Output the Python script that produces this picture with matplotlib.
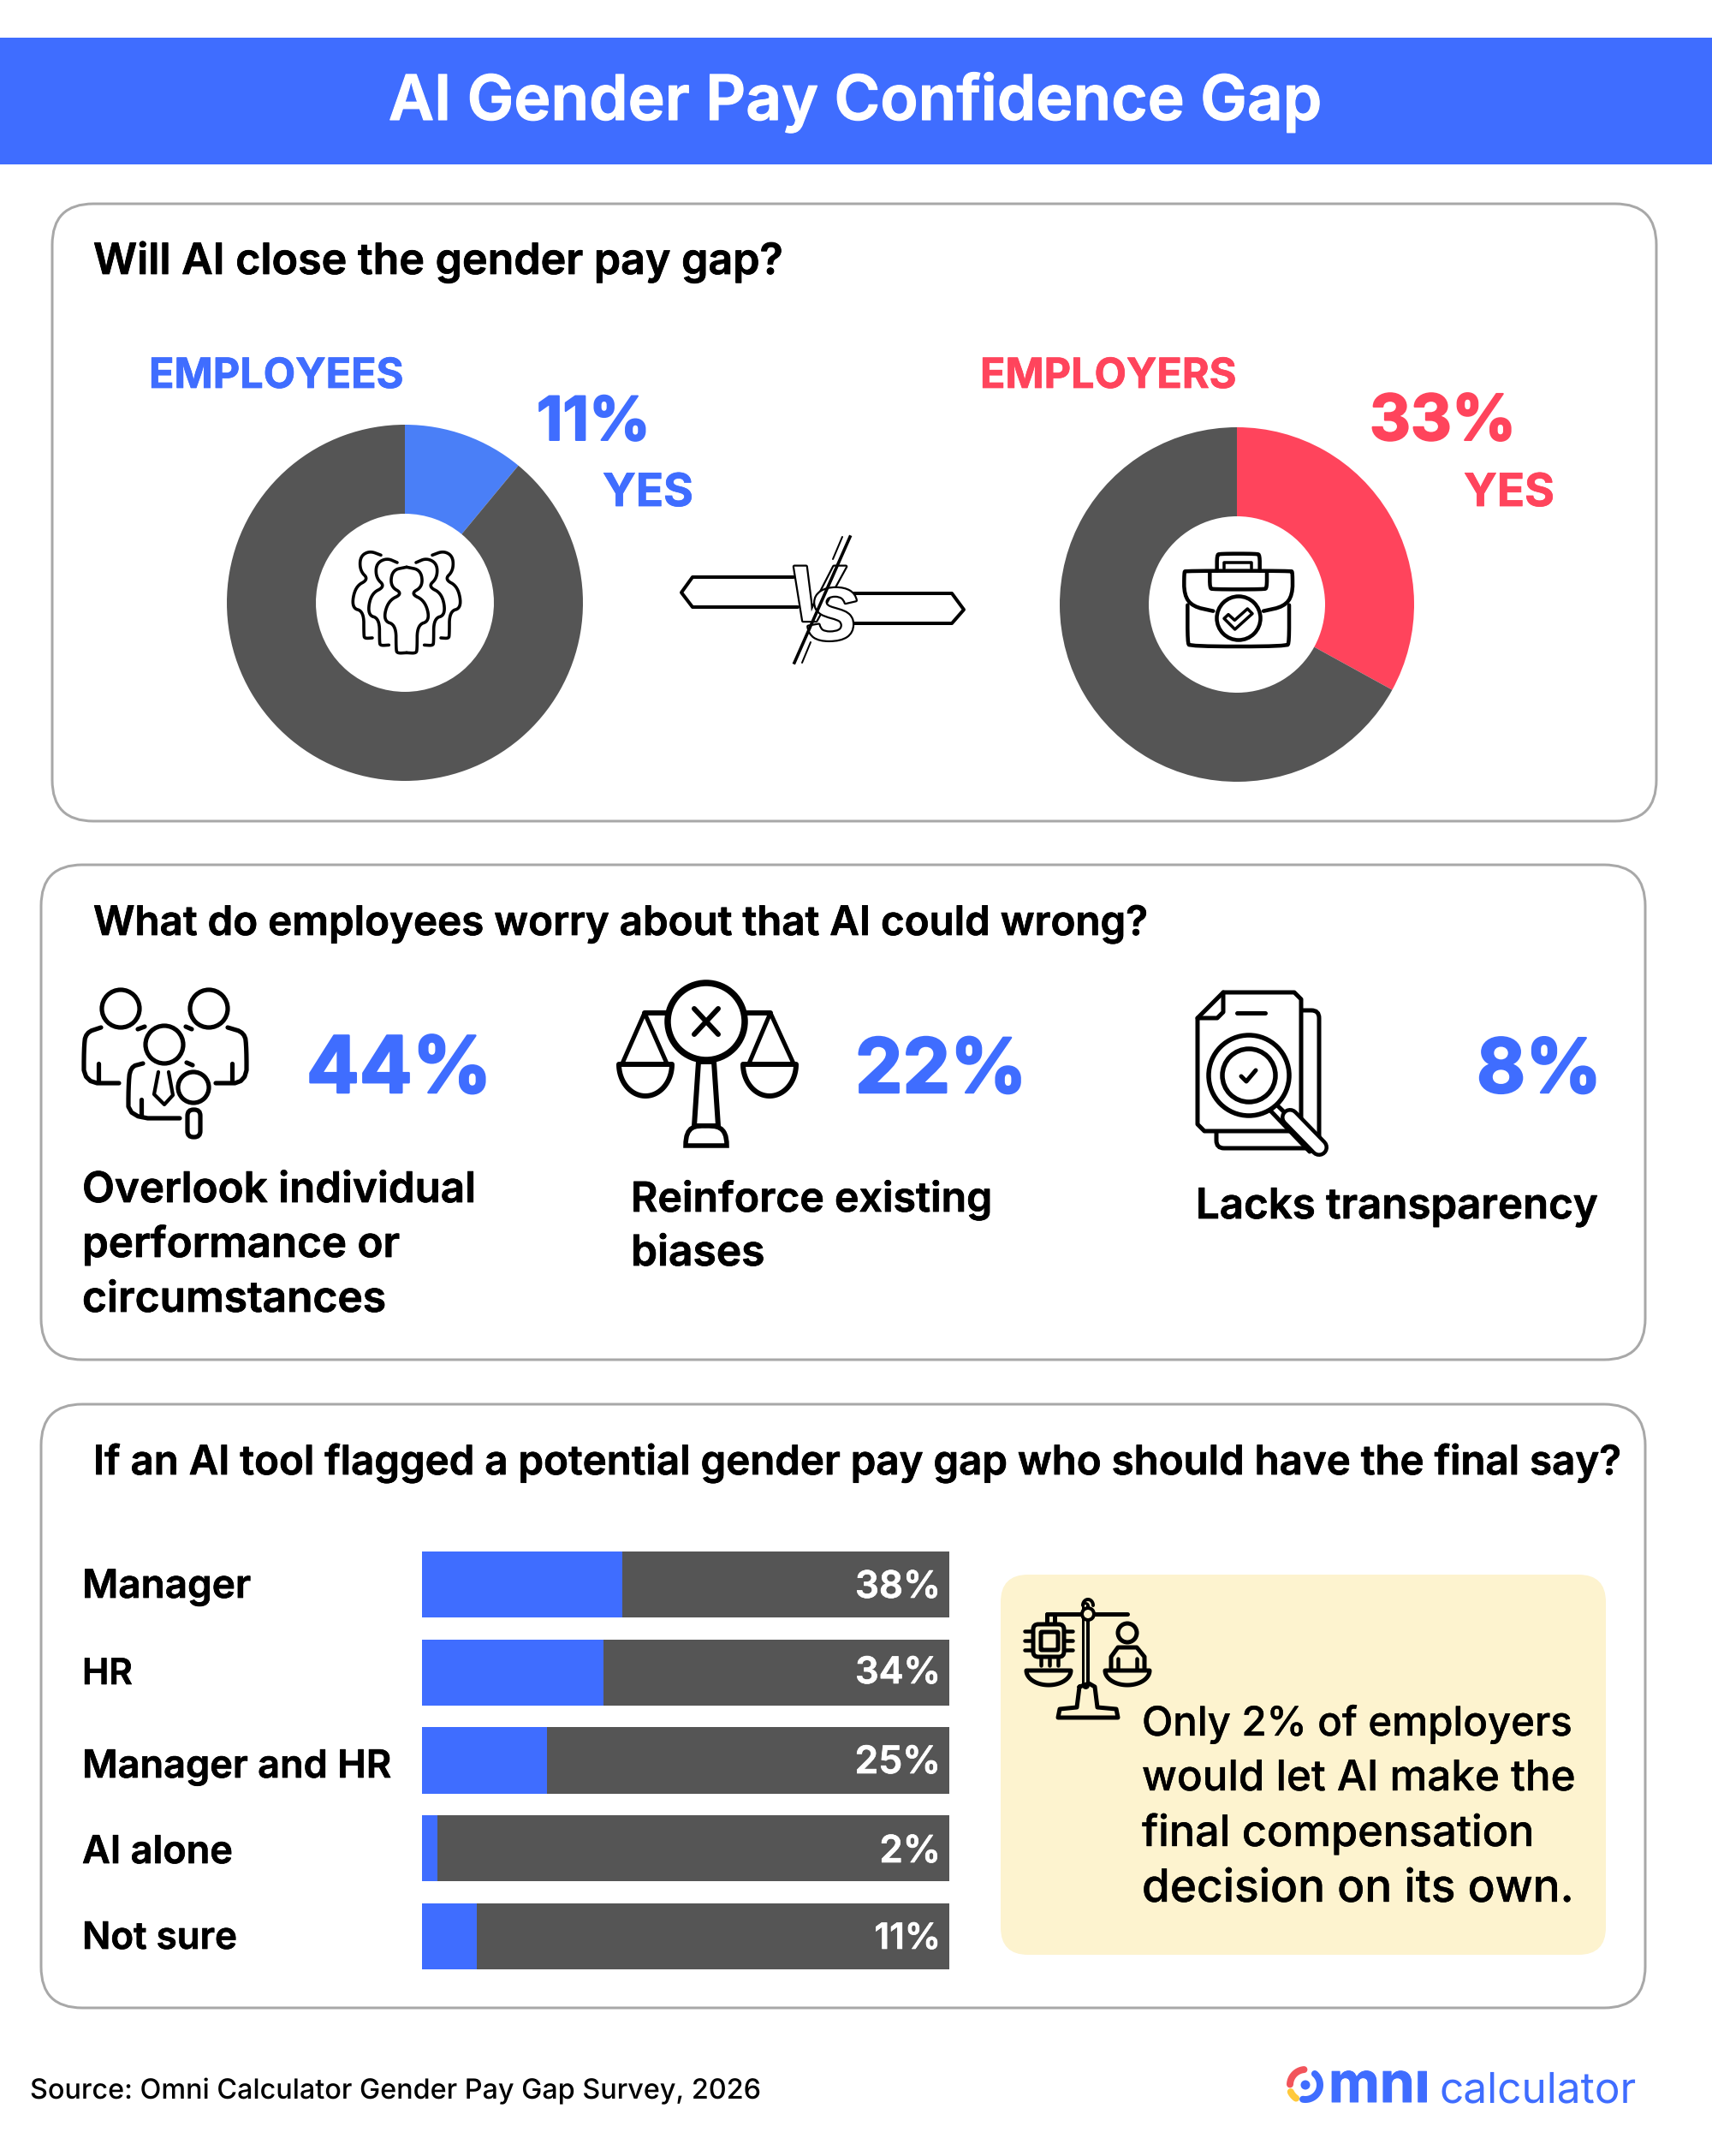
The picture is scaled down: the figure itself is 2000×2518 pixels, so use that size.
import numpy as np
import matplotlib
matplotlib.use("Agg")
import matplotlib.pyplot as plt
from matplotlib.font_manager import FontProperties
from matplotlib.patches import FancyBboxPatch, Circle, Ellipse, Polygon, Rectangle, PathPatch
from matplotlib.path import Path
from matplotlib.textpath import TextPath
import matplotlib.patheffects as pe

plt.rcParams["text.hinting"] = "none"

# ---------- data ----------
title = "AI Gender Pay Confidence Gap"
q1 = "Will AI close the gender pay gap?"
q2 = "What do employees worry about that AI could wrong?"
q3 = "If an AI tool flagged a potential gender pay gap who should have the final say?"
employees_yes = 11
employers_yes = 33
worry_values = ["44%", "22%", "8%"]
categories = ["Manager", "HR", "Manager and HR", "AI alone", "Not sure"]
final_say_labels = [38, 34, 25, 2, 11]
final_say_drawn = [38, 34.4, 23.7, 2.9, 10.4]   # the blue fills as drawn in the picture
callout = ["Only 2% of employers", "would let AI make the", "final compensation", "decision on its own."]

BLUE = "#3F6DFF"
DONUT_BLUE = "#4A7FF7"
RED = "#FF445C"
DARK = "#555555"
EDGE = "#A8A8A8"
CREAM = "#FDF3CF"
W, H = 2000, 2518
FONT = "Inter"

fig = plt.figure(figsize=(W/100, H/100), dpi=100, facecolor="white")

def px_axes(z):
    a = fig.add_axes([0, 0, 1, 1], zorder=z)
    a.set_xlim(0, W); a.set_ylim(H, 0); a.axis("off")
    a.patch.set_alpha(0)
    return a

bg = px_axes(0)
fg = px_axes(5)

def rect_axes(x0, y0, x1, y1, z=2):
    return fig.add_axes([x0/W, 1-y1/H, (x1-x0)/W, (y1-y0)/H], zorder=z)

def T(s, x, y, width, color="black", weight=600, ha="left", thick=0.011, a=fg, family=FONT):
    fp = FontProperties(family=family, weight=weight)
    bb = TextPath((0, 0), s, size=100, prop=fp).get_extents()
    px = 100*width*0.994/bb.width
    t = a.text(x, y, s, fontsize=px*0.72, color=color, ha=ha, va="baseline",
               family=family, weight=weight)
    if thick:
        t.set_path_effects([pe.withStroke(linewidth=px*thick, foreground=color)])
    return t

def panel(x0, y0, x1, y1, r=48, fc="white", ec=EDGE, lw=3.0):
    bg.add_patch(FancyBboxPatch((x0+r, y0+r), x1-x0-2*r, y1-y0-2*r,
                 boxstyle=f"round,pad={r},rounding_size={r}", fc=fc, ec=ec, lw=lw*0.72))

# header
bg.add_patch(Rectangle((0, 44), W, 148, fc=BLUE, ec="none"))
T(title, 999, 140, 1092, color="white", ha="center")

panel(61, 238, 1935, 959)
panel(48, 1010, 1922, 1588)
panel(48, 1640, 1922, 2345)
panel(1169, 1839, 1876, 2283, r=32, fc=CREAM, ec="none", lw=0)

# ---------- donuts ----------
def donut(cx, cy, r, hole, yes, col):
    a = rect_axes(cx-r, cy-r, cx+r, cy+r)
    a.pie([yes, 100-yes], colors=[col, DARK], startangle=90, counterclock=False,
          radius=1, wedgeprops=dict(width=1-hole/r, linewidth=0))
    a.set_xlim(-1, 1); a.set_ylim(-1, 1); a.set_aspect("equal")
    a.patch.set_alpha(0)

donut(473, 704, 208, 104, employees_yes, DONUT_BLUE)
donut(1445, 706, 207, 103, employers_yes, RED)

T("EMPLOYEES", 174, 453, 294, color=BLUE, weight=700)
T(f"{employees_yes}%", 627, 514, 124, color=BLUE, weight=700, thick=0.02)
T("YES", 704, 591, 103, color=BLUE, weight=700)
T("EMPLOYERS", 1145, 453, 296, color=RED, weight=700)
T(f"{employers_yes}%", 1600, 514, 162, color=RED, weight=700, thick=0.02)
T("YES", 1710, 591, 103, color=RED, weight=700)

T(q1, 109, 320, 807)
T(q2, 109, 1092, 1236)
T(q3, 109, 1722, 1790)

# ---------- icon helpers ----------
def line(pts, lw=4, color="black", a=fg, z=3):
    p = np.array(pts, float)
    a.plot(p[:, 0], p[:, 1], color=color, lw=lw*0.72, solid_capstyle="round",
           solid_joinstyle="round", zorder=z)

def smooth(pts, n=3):
    p = np.array(pts, float)
    for _ in range(n):
        q = 0.75*p[:-1] + 0.25*p[1:]
        r = 0.25*p[:-1] + 0.75*p[1:]
        s = np.empty((len(q)*2, 2)); s[0::2] = q; s[1::2] = r
        p = np.vstack([p[0], s, p[-1]])
    return p

def circ(x, y, r, lw=4, fc="none", ec="black", ry=None, z=3):
    fg.add_patch(Ellipse((x, y), 2*r, 2*(ry or r), fc=fc, ec=ec, lw=lw*0.72, zorder=z))

def rbox(x0, y0, x1, y1, r, lw=4, fc="none", ec="black", z=3):
    fg.add_patch(FancyBboxPatch((x0+r, y0+r), x1-x0-2*r, y1-y0-2*r,
                 boxstyle=f"round,pad={r},rounding_size={r}", fc=fc, ec=ec, lw=lw*0.72, zorder=z))

def arc(cx, cy, rx, ry, a0, a1, lw=4, color="black", z=3):
    t = np.radians(np.linspace(a0, a1, 60))
    line(np.c_[cx+rx*np.cos(t), cy-ry*np.sin(t)], lw, color, z=z)

def bowl(cx, y, hw, depth, lw=5, fc="none", z=3):
    t = np.radians(np.linspace(0, 180, 50))
    pts = np.c_[cx+hw*np.cos(t), y+depth*np.sin(t)]
    fg.add_patch(Polygon(pts, closed=True, fc=fc, ec="black", lw=lw*0.72, zorder=z, joinstyle="round"))

# crowd icon: outlines traced, mirrored about the icon's axis
def crowd(zpts):
    z = np.array(zpts, float)
    for sgn in (0, 1):
        zz = z.copy()
        if sgn:
            zz[:, 0] = 450 - zz[:, 0]
        p = np.c_[400 + zz[:, 0]/3, 635 + zz[:, 1]/3]
        line(smooth(p), 3.6)

crowd([(135, 40), (95, 25), (62, 45), (62, 95), (92, 125), (45, 150), (32, 225), (75, 237), (75, 320), (78, 332), (105, 330)])
crowd([(192, 66), (155, 50), (118, 70), (118, 120), (150, 150), (100, 175), (88, 250), (130, 262), (130, 345), (133, 357), (163, 355)])
crowd([(225, 82), (175, 92), (168, 150), (212, 175), (160, 200), (143, 270), (188, 285), (188, 370), (192, 384), (225, 382)])

# briefcase
bz = lambda pts: [(1370+x/3, 635+y/3) for x, y in pts]
line(smooth(bz([(142, 236), (70, 220), (40, 180), (40, 100), (45, 95), (415, 95), (420, 100), (420, 180), (390, 220), (318, 236)]), 2), 4.5)
line(smooth(bz([(52, 215), (52, 345), (60, 360), (400, 360), (408, 345), (408, 215)]), 2), 4.5)
line(smooth(bz([(155, 95), (155, 40), (165, 35), (295, 35), (305, 40), (305, 95)]), 2), 4.5)
line(bz([(180, 88), (180, 65), (277, 65), (277, 88)]), 3.5)
line(smooth(bz([(130, 97), (130, 155), (140, 160), (320, 160), (330, 155), (330, 97)]), 2), 4.5)
circ(1447, 722, 25.5, lw=4.5)
fg.add_patch(Polygon(bz([(180, 262), (195, 248), (217, 268), (262, 228), (279, 245), (218, 300)]),
                     closed=True, fc="white", ec="black", lw=3.5*0.72, zorder=3, joinstyle="round"))

# VS badge
line([(927, 674), (809, 674), (796, 692), (809, 709), (932, 709)], lw=4)
line([(991, 693), (1112, 693), (1126, 712), (1112, 728), (988, 728)], lw=4)
line([(984, 627), (973, 653)], lw=2)
line([(947, 750), (937, 774)], lw=2)
for ch, x, y, s in [("V", 951, 725, 92), ("S", 972, 747, 86)]:
    t = fg.text(x, y, ch, fontsize=s*0.72, ha="center", va="baseline", color="white", zorder=4,
                family="Liberation Sans", weight="bold", style="italic")
    t.set_path_effects([pe.withStroke(linewidth=3.2, foreground="black")])
fg.plot([993, 928], [627, 774], color="black", lw=2.6, zorder=4.5)

# team search icon
circ(141, 1178, 22, lw=5.2)
circ(244, 1178, 22, lw=5.2)
line(smooth([(118, 1200), (100, 1206), (98, 1225), (98, 1265), (139, 1265)], 2), 5.2)
line(smooth([(266, 1200), (286, 1206), (288, 1225), (288, 1265), (252, 1265)], 2), 5.2)
line([(115, 1242), (115, 1263)], 5.2)
line([(271, 1242), (271, 1263)], 5.2)
line([(161, 1202), (169, 1199)], 5.2)
line([(217, 1199), (224, 1202)], 5.2)
circ(192, 1220, 22, lw=5.2)
line(smooth([(167, 1242), (152, 1246), (150, 1270), (150, 1306), (210, 1306)], 2), 5.2)
line([(165, 1284), (165, 1304)], 5.2)
line([(218, 1241), (225, 1244)], 5.2)
line([(185, 1252), (180, 1278), (192, 1290), (202, 1279), (197, 1252)], 4.2)
circ(226, 1270, 18, lw=5.2, fc="white")
rbox(219, 1296, 234, 1328, 7, lw=5.2, fc="white")

# scales X icon
line([(753, 1183), (900, 1183)], 6)
circ(825, 1193, 45, lw=7.5, fc="white")
line([(811, 1178), (839, 1208)], 6)
line([(839, 1178), (811, 1208)], 6)
line([(727, 1242), (753, 1183), (779, 1242)], 5)
line([(875, 1242), (900, 1183), (927, 1242)], 5)
bowl(754, 1243, 31, 37, lw=6)
bowl(899, 1243, 31, 37, lw=6)
fg.add_patch(Polygon([(816, 1240), (834, 1240), (839, 1315), (811, 1315)], closed=True,
                     fc="white", ec="black", lw=6*0.72, zorder=3))
fg.add_patch(PathPatch(Path([(801, 1338), (801, 1314), (813, 1315), (824, 1315), (836, 1315),
                             (849, 1314), (849, 1338), (801, 1338)],
                            [Path.MOVETO, Path.CURVE4, Path.CURVE4, Path.LINETO, Path.CURVE4,
                             Path.CURVE4, Path.CURVE4, Path.CLOSEPOLY]),
                       fc="white", ec="black", lw=5.5*0.72, zorder=3))

# document icon
rbox(1421, 1180, 1541, 1341, 9, lw=5, fc="white")
fg.add_patch(Polygon([(1429, 1159), (1512, 1159), (1520, 1167), (1520, 1321), (1407, 1321),
                      (1399, 1313), (1399, 1189)], closed=True, fc="white", ec="black",
                     lw=5*0.72, zorder=3, joinstyle="round"))
line([(1429, 1159), (1429, 1182), (1422, 1189), (1399, 1189)], 5)
line([(1445, 1183), (1478, 1183)], 5)
line([(1488, 1287), (1540, 1337)], 5, z=3)
line([(1483, 1296), (1530, 1345)], 5, z=3)
line([(1507, 1305), (1541, 1340)], 22, z=3)
line([(1507, 1305), (1541, 1340)], 13, color="white", z=3)
circ(1459, 1256, 47, lw=5.5, fc="white")
circ(1459, 1256, 31, lw=5.5, fc="white")
line([(1450, 1257), (1456, 1263), (1467, 1250)], 5)

# ---------- worry section ----------
T(worry_values[0], 358, 1276, 205, color=BLUE, weight=700, thick=0.02)
T(worry_values[1], 999, 1276, 189, color=BLUE, weight=700, thick=0.02)
T(worry_values[2], 1725, 1276, 135, color=BLUE, weight=700, thick=0.02)

for s, y, wd in [("Overlook individual", 1404, 457), ("performance or", 1468, 369), ("circumstances", 1532, 353)]:
    T(s, 96, y, wd)
for s, y, wd in [("Reinforce existing", 1415, 418), ("biases", 1478, 152)]:
    T(s, 737, y, wd)
T("Lacks transparency", 1397, 1423, 468)

# ---------- bars ----------
bx = rect_axes(493, 1812, 1109, 2300)
pos = np.arange(len(categories))
bx.barh(pos, [100]*len(pos), height=0.75, color=DARK, linewidth=0)
bx.barh(pos, final_say_drawn, height=0.75, color=BLUE, linewidth=0)
bx.set_xlim(0, 100); bx.set_ylim(4.375, -0.375); bx.axis("off")
cat_base = [1866, 1967, 2076, 2176, 2276]
cat_w = [194, 55, 359, 174, 177]
val_base = [1866, 1966, 2071, 2175, 2276]
for c, yb, wd in zip(categories, cat_base, cat_w):
    T(c, 96, yb, wd)
val_w = [94, 94, 94, 65, 72]
for v, yb, wd in zip(final_say_labels, val_base, val_w):
    T(f"{v}%", 1099, yb, wd, color="white", ha="right")

# callout scales
line([(1268, 1875), (1268, 1968)], 9)
line([(1268, 1875), (1268, 1968)], 2, color=CREAM)
line([(1223, 1885), (1317, 1885)], 5)
line([(1223, 1885), (1223, 1895)], 5)
line([(1232, 1885), (1232, 1895)], 5)
circ(1271, 1885, 7, lw=4, fc=CREAM)
arc(1271, 1875, 6, 7, 0, 180, lw=4)
rbox(1207, 1897, 1243, 1935, 6, lw=5)
rbox(1216, 1906, 1236, 1927, 1, lw=5)
for yy in (1905, 1916, 1927):
    line([(1197, yy), (1205, yy)], 4.5); line([(1245, yy), (1253, yy)], 4.5)
for xx in (1216, 1226, 1236):
    line([(xx, 1937), (xx, 1945)], 4.5)
bowl(1225, 1951, 26, 17, lw=5)
bowl(1317, 1951, 26, 17, lw=5)
circ(1317, 1907, 11, lw=5)
line([(1298, 1950), (1298, 1935), (1306, 1924), (1328, 1924), (1337, 1935), (1337, 1950)], 5)
line([(1306, 1937), (1306, 1950)], 4.5); line([(1328, 1937), (1328, 1950)], 4.5)
line([(1261, 1970), (1258, 1994), (1238, 1996), (1236, 2006), (1306, 2006), (1304, 1996), (1282, 1994), (1279, 1970), (1272, 1966), (1261, 1970)], 5)

for s, y, wd in zip(callout, [2027, 2091, 2156, 2221], [501, 506, 457, 501]):
    T(s, 1334, y, wd, weight=500, thick=0.005)

# source
T("Source: Omni Calculator Gender Pay Gap Survey, 2026", 35, 2451, 856, weight=500, thick=0)

# logo
lc, lx, ly = BLUE, 1525, 2435
arc(lx, ly, 17, 17, 50, -100, lw=8, color=lc)
arc(lx, ly, 18, 18, 95, 178, lw=8, color="#F2545B")
arc(lx, ly, 19, 19, 205, 235, lw=8, color="#FFC93C")
circ(lx, ly, 5.5, lw=0, fc=lc, ec="none")
T("mnı", 1552, 2455, 111, color=lc, weight=700)
T("calculator", 1681, 2455, 228, color=lc, weight=400, thick=0)

fig.savefig("out.png", dpi=100, facecolor="white")
